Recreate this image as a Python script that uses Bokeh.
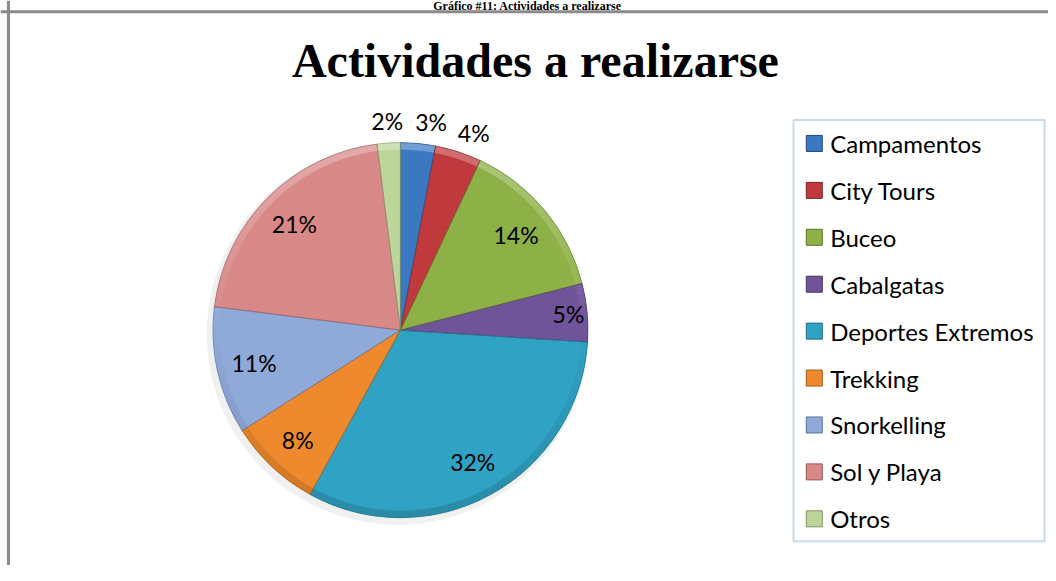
import math
from bokeh.plotting import figure
from bokeh.models import Range1d, Span, BoxAnnotation, ColumnDataSource
from bokeh.core.properties import value
from bokeh.embed import file_html
from bokeh.resources import INLINE

# ---- data ----
categories = ["Campamentos", "City Tours", "Buceo", "Cabalgatas",
              "Deportes Extremos", "Trekking", "Snorkelling", "Sol y Playa", "Otros"]
percentages = [3, 4, 14, 5, 32, 8, 11, 21, 2]
colors = ["#3A78C2", "#C0393C", "#8DB146", "#6F5499", "#30A2C3",
          "#EE8A2D", "#8FAAD8", "#D78887", "#BDD598"]
edge_colors = ["#1F4A7E", "#7E2224", "#5A7628", "#46315F", "#1B6A82",
               "#A45A16", "#5A7099", "#965A59", "#7F9560"]
title_text = "Actividades a realizarse"
caption_text = "Gráfico #11: Actividades a realizarse"

# ---- layout helpers (reference pixel -> figure data) ----
W, H = 1048, 565
SX, SY = W / 1056.0, H / 581.0
def X(x):
    return x * SX
def Y(y):
    return H - y * SY

def blend(hexc, other, t):
    a = [int(hexc[i:i + 2], 16) for i in (1, 3, 5)]
    b = [int(other[i:i + 2], 16) for i in (1, 3, 5)]
    c = [round(a[k] + (b[k] - a[k]) * t) for k in range(3)]
    return "#%02x%02x%02x" % tuple(c)

p = figure(width=W, height=H, x_range=Range1d(0, W), y_range=Range1d(0, H),
           output_backend="svg", toolbar_location=None,
           x_axis_type=None, y_axis_type=None, min_border=0,
           outline_line_color=None, background_fill_color="white")
p.grid.visible = False

# caption above the chart frame
p.text(x=[X(531)], y=[Y(5.5)], text=[caption_text], text_align="center", text_baseline="middle",
       text_font=value("Liberation Serif"), text_font_style="bold", text_font_size="12px",
       text_color="black")

# frame lines
p.add_layout(Span(location=Y(11.5), dimension="width", line_color="#8a8a8a", line_width=3))
p.add_layout(Span(location=X(8), dimension="height", line_color="#8a8a8a", line_width=3))

# title
p.text(x=[X(539)], y=[Y(62)], text=[title_text], text_align="center", text_baseline="middle",
       text_font=value("Liberation Serif"), text_font_style="bold", text_font_size="48px",
       text_color="black")

# ---- pie ----
cx, cy, R = X(403), Y(339), 189 * SX
total = float(sum(percentages))
starts, ends, mids, rfs, labels = [], [], [], [], []
rim = dict(s=[], e=[], c=[])
cum = 0.0
for v, col in zip(percentages, colors):
    f = v / total
    a0 = math.pi / 2 - 2 * math.pi * cum
    a1 = math.pi / 2 - 2 * math.pi * (cum + f)
    starts.append(a1)
    ends.append(a0)
    # clockwise degrees from 12 o'clock, in (-180, 180]
    mdeg = 360.0 * (cum + f / 2)
    if mdeg > 180:
        mdeg -= 360
    mids.append(mdeg)
    rfs.append(1.12 if v < 5 else (0.9 if v <= 5 else 0.8))
    labels.append(f"{v}%")
    # bevel rim split into small arcs, lit from above
    n = max(2, int(math.degrees(a0 - a1) / 3))
    for k in range(n):
        s = a1 + (a0 - a1) * k / n
        e = a1 + (a0 - a1) * (k + 1) / n
        sm = math.sin((s + e) / 2)
        c = blend(col, "#ffffff", 0.28 * sm) if sm > 0 else blend(col, "#000000", -0.14 * sm)
        rim["s"].append(s)
        rim["e"].append(e + 0.002)
        rim["c"].append(c)
    cum += f

# spread the outside labels so they do not overlap (clockwise order)
outside = sorted([i for i, r in enumerate(rfs) if r > 1], key=lambda i: mids[i])
for a, b in zip(outside, outside[1:]):
    mids[b] = max(mids[b], mids[a] + 12.0)

lx = [cx + rfs[i] * R * math.sin(math.radians(mids[i])) for i in range(len(mids))]
ly = [cy + rfs[i] * R * math.cos(math.radians(mids[i])) for i in range(len(mids))]

src = ColumnDataSource(dict(start=starts, end=ends, color=colors, edge=edge_colors,
                            lx=lx, ly=ly, label=labels))

# soft shadow
p.circle(x=[cx - 3], y=[cy - 4], radius=R + 3, fill_color="#f0f0f0", line_color=None)

p.wedge(x=cx, y=cy, radius=R, start_angle="start", end_angle="end", direction="anticlock",
        fill_color="color", line_color=None, source=src)
p.annular_wedge(x=cx, y=cy, inner_radius=R - 7, outer_radius=R, start_angle="s", end_angle="e",
                direction="anticlock", fill_color="c", line_color=None,
                source=ColumnDataSource(rim))
p.wedge(x=cx, y=cy, radius=R, start_angle="start", end_angle="end", direction="anticlock",
        fill_color=None, line_color="edge", line_alpha=0.55, line_width=1, source=src)

p.text(x="lx", y="ly", text="label", source=src, text_align="center", text_baseline="middle",
       text_font=value("Lato"), text_font_size="23px", text_color="black")

# ---- legend ----
p.add_layout(BoxAnnotation(left=X(799), right=X(1052), top=Y(123), bottom=Y(556),
                           fill_color=None, line_color="#4F81BD", line_width=2))
leg_y = [Y(147 + 48.25 * i) for i in range(len(categories))]
leg_src = ColumnDataSource(dict(y=leg_y, name=categories, color=colors, edge=edge_colors))
p.rect(x=X(820), y="y", width=16, height=16, fill_color="color", line_color="edge",
       line_width=1, source=leg_src)
p.text(x=X(836), y="y", text="name", source=leg_src, text_align="left", text_baseline="middle",
       text_font=value("Lato"), text_font_size="24px", text_color="black")

open("out.html", "w").write(file_html(p, INLINE))
